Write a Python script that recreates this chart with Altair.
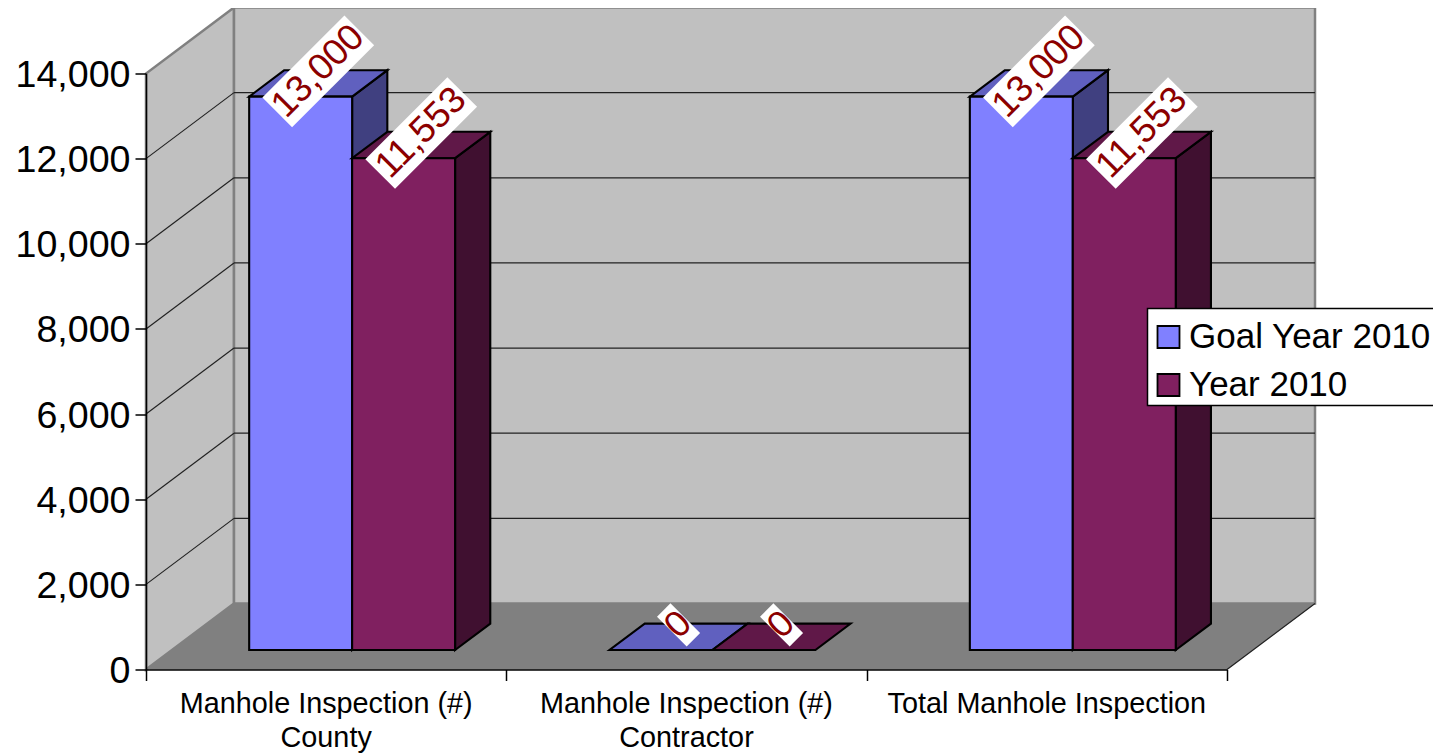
import altair as alt
import pandas as pd

categories = ["Manhole Inspection (#)\nCounty", "Manhole Inspection (#)\nContractor", "Total Manhole Inspection"]
series_names = ["Goal Year 2010", "Year 2010"]
goal_values = [13000, 0, 13000]
actual_values = [11553, 0, 11553]
y_ticks = [0, 2000, 4000, 6000, 8000, 10000, 12000, 14000]
front_colors = ["#8080FF", "#802060"]
top_colors = ["#6060BF", "#601848"]
side_colors = ["#404080", "#401030"]

W, H = 1081, 596
YMAX = 14000
N = len(categories)
PXX = N / W
PXY = YMAX / H
DX = 88 * PXX      # depth projection of the full floor, in axis units
DY = 66 * PXY
BAR_W = 1 / 3.5
MARGIN = 0.75 * BAR_W
D0, D1 = 0.295, 0.695
FONT = "Liberation Sans"

xs = alt.Scale(domain=[0, N], nice=False, zero=False)
ys = alt.Scale(domain=[0, YMAX], nice=False, zero=False)
x_axis = alt.Axis(
    values=list(range(N + 1)), labels=False, title=None, grid=False, tickSize=11, domain=True,
    domainColor="#000000", tickColor="#000000", domainWidth=1.5, tickWidth=1.5, zindex=1)
y_axis = alt.Axis(
    values=y_ticks, labelExpr="format(datum.value, ',')", title=None, grid=False, tickSize=11, domain=True,
    domainColor="#000000", tickColor="#000000", domainWidth=1.5, tickWidth=1.5, labelFont=FONT, labelFontSize=37.6,
    labelColor="#000000", labelPadding=5, labelOffset=2, labelOverlap=False, zindex=1)
X = lambda f="x": alt.X(f"{f}:Q", scale=xs, axis=x_axis)
Y = lambda f="y": alt.Y(f"{f}:Q", scale=ys, axis=y_axis)


def vface(rows, color, stroke, sw):
    return alt.Chart(pd.DataFrame(rows)).mark_area(
        orient="vertical", color=color, stroke=stroke, strokeWidth=sw, opacity=1
    ).encode(x=X(), y=Y(), y2="y2:Q", detail="face:N")


def hface(rows, color, stroke, sw):
    return alt.Chart(pd.DataFrame(rows)).mark_area(
        orient="horizontal", color=color, stroke=stroke, strokeWidth=sw, opacity=1
    ).encode(y=Y(), x=X(), x2="x2:Q", detail="face:N")


def rules(rows, color, sw):
    return alt.Chart(pd.DataFrame(rows)).mark_rule(color=color, strokeWidth=sw).encode(
        x=X(), x2="x2:Q", y=Y(), y2="y2:Q"
    )


# walls, floor, grid
side_wall = vface([
    {"face": "s", "x": 0, "y": 0, "y2": YMAX},
    {"face": "s", "x": DX, "y": DY, "y2": YMAX + DY},
], "#C0C0C0", "#808080", 2.5)
back_wall = vface([
    {"face": "b", "x": DX, "y": DY, "y2": YMAX + DY},
    {"face": "b", "x": N + DX, "y": DY, "y2": YMAX + DY},
], "#C0C0C0", "#808080", 2.5)
floor = hface([
    {"face": "f", "y": 0, "x": 0, "x2": N},
    {"face": "f", "y": DY, "x": DX, "x2": N + DX},
], "#808080", "#808080", 0.5)
grid_rows = []
for v in y_ticks[1:-1]:
    grid_rows.append({"x": 0, "x2": DX, "y": v, "y2": v + DY})
    grid_rows.append({"x": DX, "x2": N + DX, "y": v + DY, "y2": v + DY})
grid = rules(grid_rows, "#222222", 1.2)
edge = rules([{"x": N, "x2": N + DX, "y": 0, "y2": DY}], "#222222", 1.2)

layers = [side_wall, back_wall, floor, grid, edge]

# bars
front_rows, label_rows, band_rows = [], [], []
for s, vals in enumerate([goal_values, actual_values]):
    side, top = [], []
    for c, v in enumerate(vals):
        x0 = c + MARGIN + s * BAR_W
        x1 = x0 + BAR_W
        base = D0 * DY
        back = D1 * DY
        if v > 0:
            side += [
                {"face": f"{c}", "x": x1 + D0 * DX, "y": base, "y2": base + v},
                {"face": f"{c}", "x": x1 + D1 * DX, "y": back, "y2": back + v},
            ]
        top += [
            {"face": f"{c}", "y": base + v, "x": x0 + D0 * DX, "x2": x1 + D0 * DX},
            {"face": f"{c}", "y": back + v, "x": x0 + D1 * DX, "x2": x1 + D1 * DX},
        ]
        front_rows.append({"series": series_names[s], "order": s, "x": x0 + D0 * DX, "x2": x1 + D0 * DX,
                           "y": base, "y2": base + v})
        cx = (x0 + x1) / 2 + (D0 + D1) / 2 * DX
        cy = v + (D0 + D1) / 2 * DY + 12 * PXY
        half = (116 if v > 0 else 19) / 2 * 0.7071
        label_rows.append({"x": cx, "y": cy, "text": f"{v:,}"})
        band_rows.append({"x": cx - half * PXX, "x2": cx + half * PXX,
                          "y": cy - half * PXY, "y2": cy + half * PXY})
    if side:
        layers.append(vface(side, side_colors[s], "#000000", 2.1))
    layers.append(hface(top, top_colors[s], "#000000", 2.1))
    layers.append(alt.Chart(pd.DataFrame([r for r in front_rows if r["order"] == s])).mark_rect(
        stroke="#000000", strokeWidth=2.1, opacity=1
    ).encode(
        x=X(), x2="x2:Q", y=Y(), y2="y2:Q",
        color=alt.Color("series:N", scale=alt.Scale(domain=series_names, range=front_colors), legend=alt.Legend(
            orient="none", legendX=1005, legendY=246, title=None,
            symbolType="square", symbolSize=484, symbolStrokeColor="#000000", symbolStrokeWidth=1.8,
            symbolOpacity=1, labelFont=FONT, labelFontSize=35, labelColor="#000000", labelLimit=400,
            labelOffset=3, padding=0, rowPadding=12, zindex=2)),
    ))

layers.append(alt.Chart(pd.DataFrame(band_rows)).mark_rule(color="#FFFFFF", strokeWidth=42, strokeCap="butt").encode(
    x=X(), x2="x2:Q", y=Y(), y2="y2:Q"))
layers.append(alt.Chart(pd.DataFrame(label_rows)).mark_text(
    font=FONT, fontSize=37, color="#8B0000", angle=315, align="center", baseline="middle"
).encode(x=X(), y=Y(), text="text:N"))

cat_df = pd.DataFrame({"x": [i + 0.5 for i in range(N)], "y": [0] * N, "text": categories})
layers.append(alt.Chart(cat_df).mark_text(
    font=FONT, fontSize=28.8, color="#000000", align="center", baseline="top", dy=20, lineHeight=34, lineBreak="\n"
).encode(x=X(), y=Y(), text="text:N"))

# legend box
box_df = pd.DataFrame([{"x": 1001.5 * PXX, "x2": 1300 * PXX, "y": 264 * PXY, "y2": 361 * PXY}])
layers.append(alt.Chart(box_df).mark_rect(color="#FFFFFF", stroke="#000000", strokeWidth=1.5, opacity=1).encode(
    x=X(), x2="x2:Q", y=Y(), y2="y2:Q"))

chart = alt.layer(*layers).properties(
    width=W, height=H,
    padding={"left": 138, "top": 65.5, "right": 206, "bottom": 85.5},
    autosize=alt.AutoSizeParams(type="none"),
    background="#FFFFFF",
).configure_view(stroke=None)

chart.save("out.html", embed_options={"renderer": "svg", "actions": False})
